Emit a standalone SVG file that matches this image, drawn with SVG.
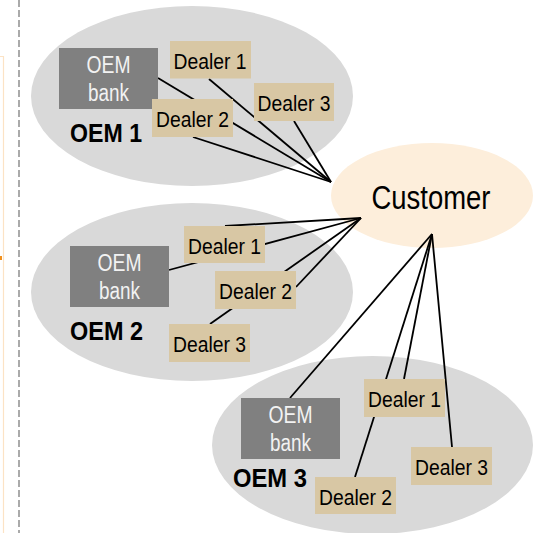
<svg xmlns="http://www.w3.org/2000/svg" width="546" height="533" viewBox="0 0 546 533">
<style>
.bg{fill:#d9d9d9}
.bank{fill:#808080}
.dealer{fill:#d8c7a4}
.cust{fill:#fdeedb}
.t{font-family:"Liberation Sans",Arial,sans-serif;text-anchor:middle}
.bt{fill:#f2f2f2;font-size:23px}
.dt{fill:#000;font-size:22px}
.ot{fill:#000;font-size:25px;font-weight:bold}
.ct{fill:#000;font-size:34px}
.conn line{stroke:#000;stroke-width:1.8}
</style>
<rect width="546" height="533" fill="#fff"/>
<path d="M0,56.5 H3.5 V533" fill="none" stroke="#fce3c5" stroke-width="1.2"/>
<rect x="0" y="256" width="2" height="4" fill="#f0901e"/>
<line x1="19" y1="0" x2="19" y2="533" stroke="#aaaaaa" stroke-width="2" stroke-dasharray="7 3"/>

<g id="oem1-cluster"><ellipse class="bg" cx="192" cy="96" rx="161" ry="90"/></g>
<g id="oem2-cluster"><ellipse class="bg" cx="192" cy="292" rx="161" ry="89"/></g>
<g id="oem3-cluster"><ellipse class="bg" cx="372.5" cy="445" rx="160.5" ry="89"/></g>
<g id="customer"><ellipse class="cust" cx="432" cy="195.5" rx="101" ry="52.5"/>
<text class="t ct" x="431" y="209" textLength="119" lengthAdjust="spacingAndGlyphs">Customer</text></g>

<g id="connectors" class="conn">
<line x1="158" y1="78" x2="331" y2="182"/>
<line x1="209" y1="79" x2="331" y2="182"/>
<line x1="193" y1="137" x2="331" y2="182"/>
<line x1="294" y1="121" x2="331" y2="182"/>
<line x1="169" y1="270" x2="361" y2="218"/>
<line x1="225" y1="226" x2="361" y2="218"/>
<line x1="296" y1="287" x2="361" y2="218"/>
<line x1="210" y1="324" x2="361" y2="218"/>
<line x1="290" y1="398" x2="432" y2="234"/>
<line x1="404" y1="379" x2="432" y2="234"/>
<line x1="355" y1="477" x2="432" y2="234"/>
<line x1="452" y1="447" x2="432" y2="234"/>
</g>

<g id="oem1-bank"><rect class="bank" x="59" y="48" width="99" height="61"/>
<text class="t bt" x="108.5" y="73" textLength="44" lengthAdjust="spacingAndGlyphs">OEM</text>
<text class="t bt" x="108.5" y="101" textLength="41" lengthAdjust="spacingAndGlyphs">bank</text></g>
<g id="oem1-dealer1"><rect class="dealer" x="170" y="41" width="81" height="37.5"/>
<text class="t dt" x="210" y="68.5" textLength="73" lengthAdjust="spacingAndGlyphs">Dealer 1</text></g>
<g id="oem1-dealer2"><rect class="dealer" x="152" y="99" width="81" height="38"/>
<text class="t dt" x="192.5" y="127" textLength="73" lengthAdjust="spacingAndGlyphs">Dealer 2</text></g>
<g id="oem1-dealer3"><rect class="dealer" x="254" y="83" width="80" height="38"/>
<text class="t dt" x="294" y="110.5" textLength="73" lengthAdjust="spacingAndGlyphs">Dealer 3</text></g>
<g id="oem1-label"><text class="t ot" x="106" y="142" textLength="72" lengthAdjust="spacingAndGlyphs">OEM 1</text></g>

<g id="oem2-bank"><rect class="bank" x="70" y="246" width="99" height="61"/>
<text class="t bt" x="119.5" y="271" textLength="44" lengthAdjust="spacingAndGlyphs">OEM</text>
<text class="t bt" x="119.5" y="299" textLength="41" lengthAdjust="spacingAndGlyphs">bank</text></g>
<g id="oem2-dealer1"><rect class="dealer" x="184" y="226" width="81" height="37"/>
<text class="t dt" x="224.5" y="253.5" textLength="73" lengthAdjust="spacingAndGlyphs">Dealer 1</text></g>
<g id="oem2-dealer2"><rect class="dealer" x="215" y="271" width="81" height="38"/>
<text class="t dt" x="255.5" y="298.5" textLength="73" lengthAdjust="spacingAndGlyphs">Dealer 2</text></g>
<g id="oem2-dealer3"><rect class="dealer" x="169" y="324" width="81" height="38"/>
<text class="t dt" x="209.5" y="351.5" textLength="73" lengthAdjust="spacingAndGlyphs">Dealer 3</text></g>
<g id="oem2-label"><text class="t ot" x="106.5" y="340" textLength="73" lengthAdjust="spacingAndGlyphs">OEM 2</text></g>

<g id="oem3-bank"><rect class="bank" x="241" y="398" width="99" height="61"/>
<text class="t bt" x="290.5" y="423" textLength="44" lengthAdjust="spacingAndGlyphs">OEM</text>
<text class="t bt" x="290.5" y="451" textLength="41" lengthAdjust="spacingAndGlyphs">bank</text></g>
<g id="oem3-dealer1"><rect class="dealer" x="364" y="379" width="81" height="38"/>
<text class="t dt" x="404.5" y="406.5" textLength="73" lengthAdjust="spacingAndGlyphs">Dealer 1</text></g>
<g id="oem3-dealer2"><rect class="dealer" x="315" y="477" width="81" height="37"/>
<text class="t dt" x="355.5" y="504.5" textLength="73" lengthAdjust="spacingAndGlyphs">Dealer 2</text></g>
<g id="oem3-dealer3"><rect class="dealer" x="411" y="447" width="81" height="38"/>
<text class="t dt" x="451.5" y="474.5" textLength="73" lengthAdjust="spacingAndGlyphs">Dealer 3</text></g>
<g id="oem3-label"><text class="t ot" x="270" y="487" textLength="74" lengthAdjust="spacingAndGlyphs">OEM 3</text></g>
</svg>
